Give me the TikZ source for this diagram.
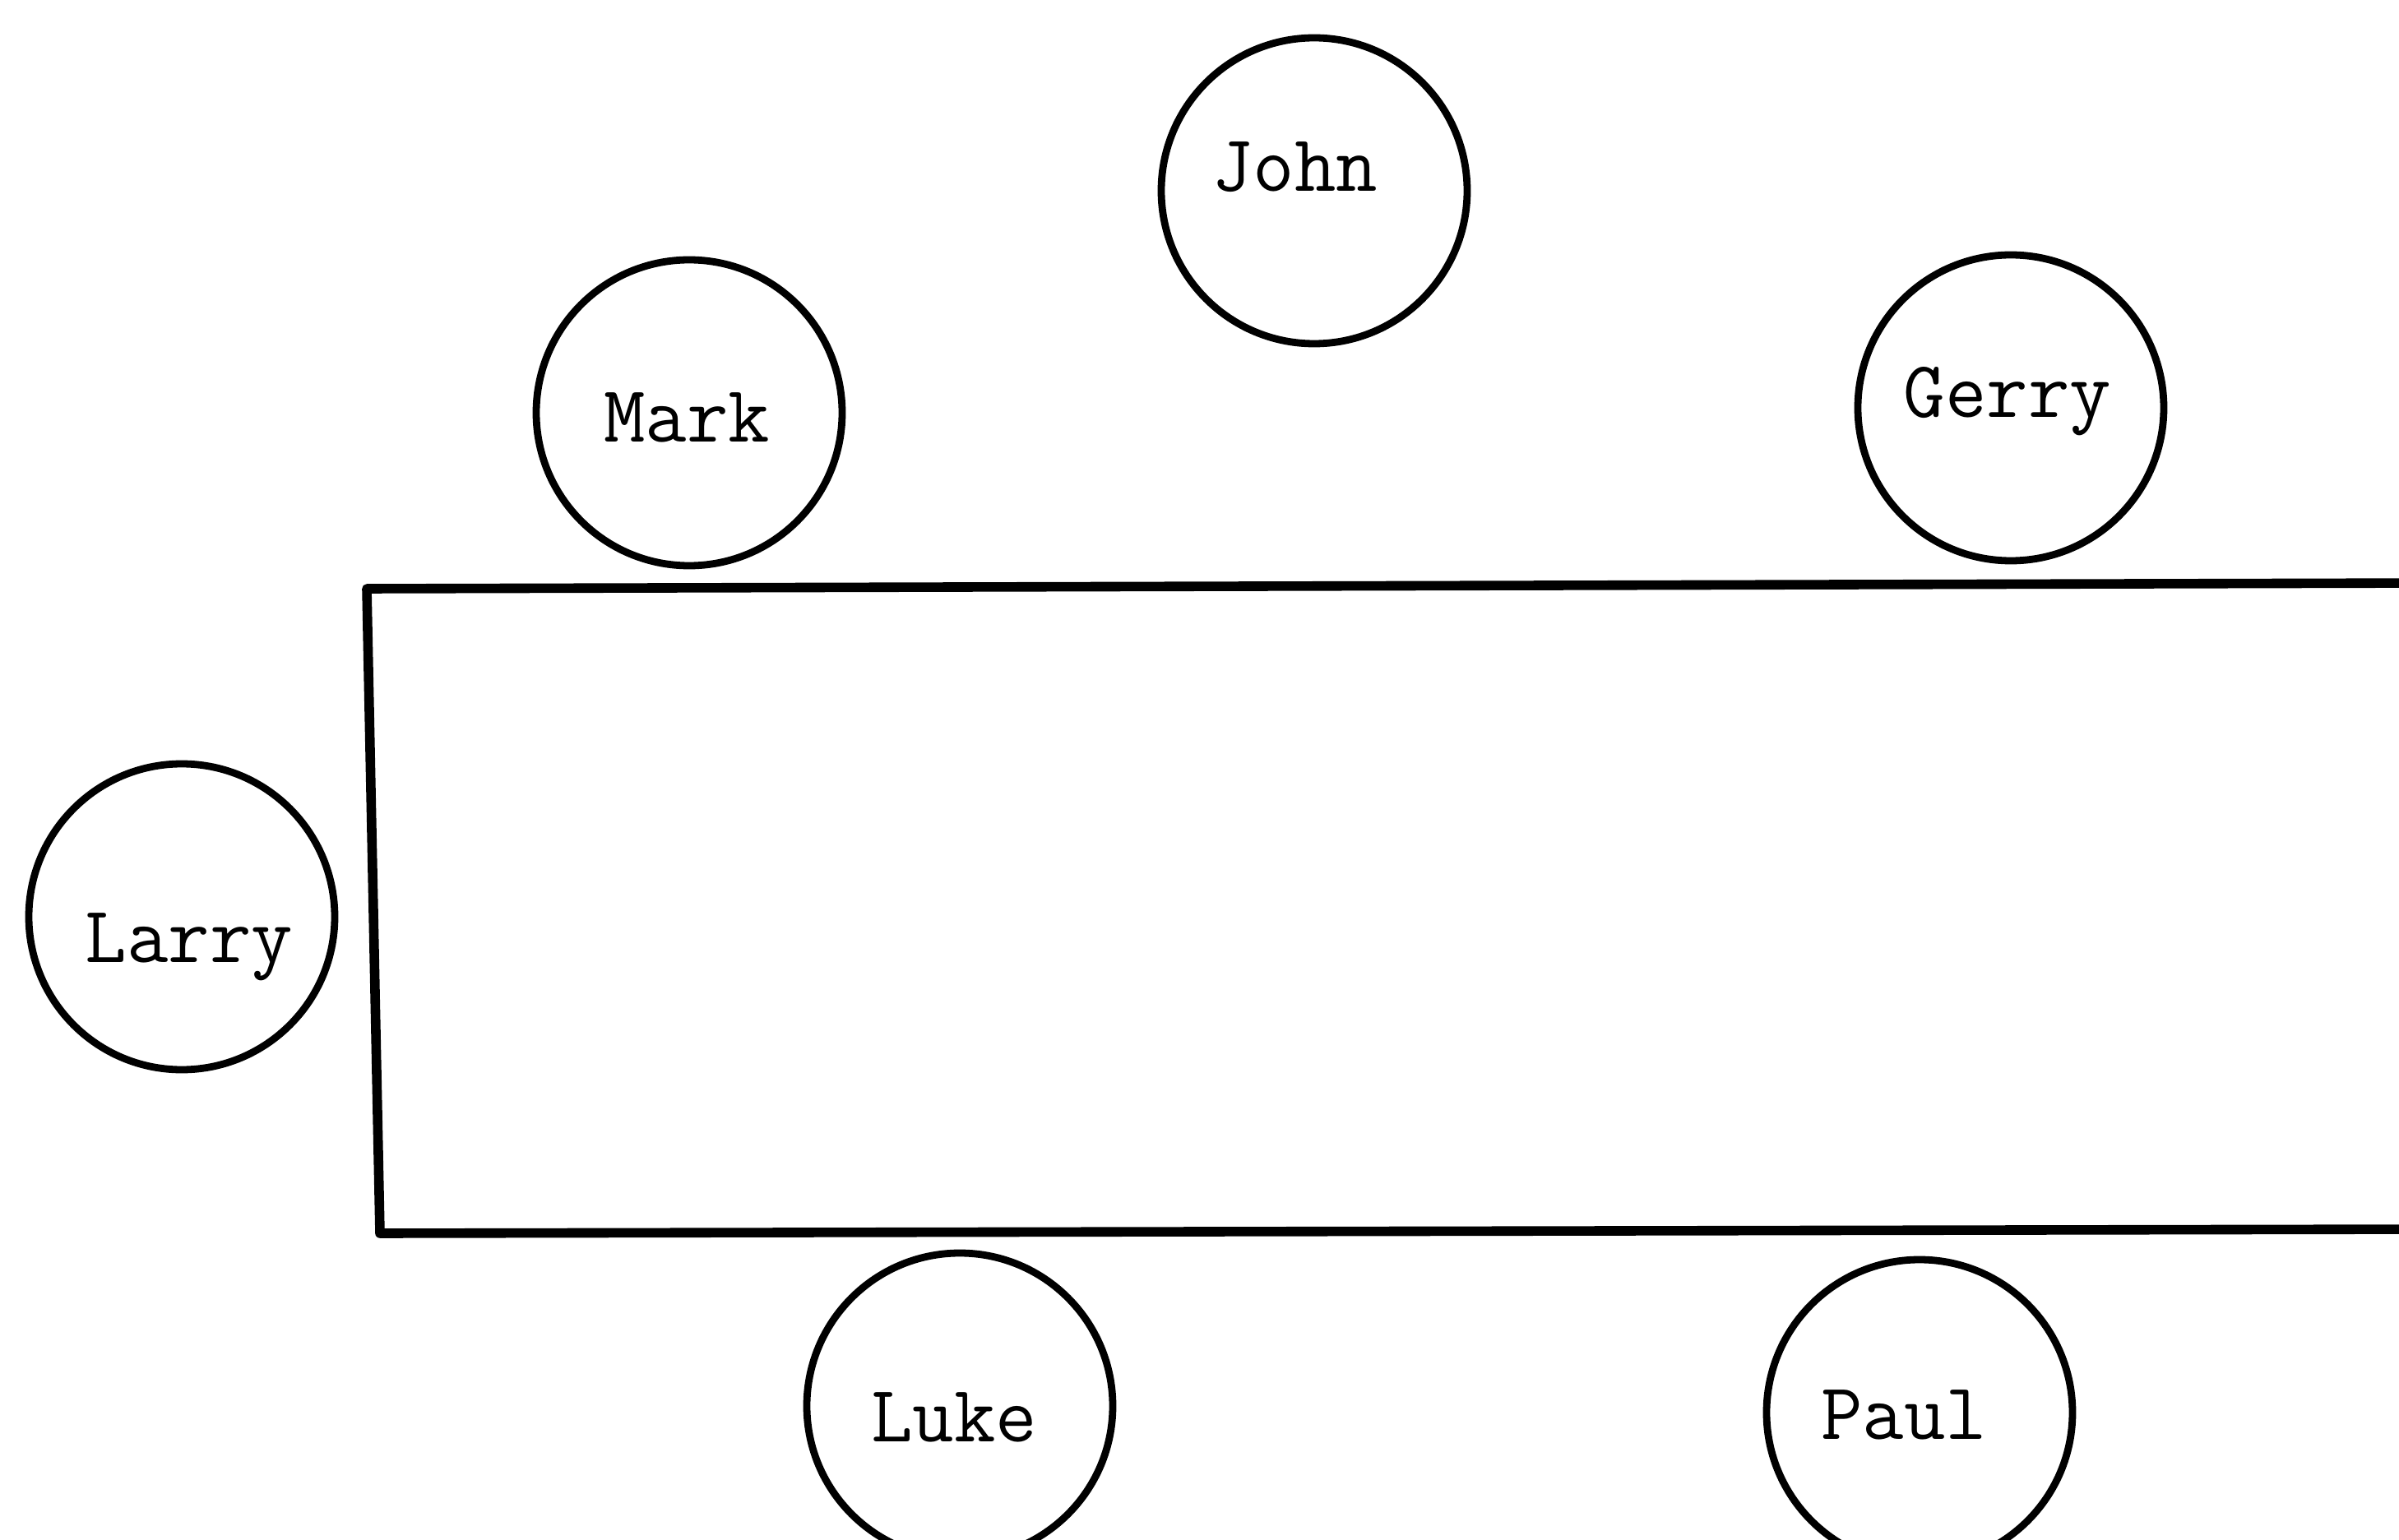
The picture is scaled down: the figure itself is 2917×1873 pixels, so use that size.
\documentclass[tikz,border=0pt]{standalone}
\begin{document}
\begin{tikzpicture}[x=0.25pt,y=-0.25pt,
  seat/.style={draw,circle,line width=2.2pt,minimum size=93pt,inner sep=0pt},
  seatlabel/.style={anchor=base,inner sep=0pt,font=\fontsize{24.5}{29}\selectfont\ttfamily},
  tableedge/.style={line width=2.9pt,line join=round,line cap=round}]
  \clip (0,0) rectangle (2917,1873);
  \fill[white] (0,0) rectangle (2917,1873);

  % the table, running off the right side
  \coordinate (tr) at (2960,709);
  \coordinate (tl) at (446,716);
  \coordinate (bl) at (462,1500);
  \coordinate (br) at (2960,1495);
  \draw[tableedge] (tr) -- (tl) -- (bl) -- (br);

  % seats
  \node[seat] (john)  at (1598,232)  {};
  \node[seat] (mark)  at (838,502)   {};
  \node[seat] (gerry) at (2445,496)  {};
  \node[seat] (larry) at (221,1115)  {};
  \node[seat] (luke)  at (1167,1710) {};
  \node[seat] (paul)  at (2334,1718) {};

  % typed names
  \node[seatlabel] (johnlabel)  at (1574,233)  {John};
  \node[seatlabel] (marklabel)  at (835,538)   {Mark};
  \node[seatlabel] (gerrylabel) at (2441,508)  {Gerry};
  \node[seatlabel] (larrylabel) at (230,1170)  {Larry};
  \node[seatlabel] (lukelabel)  at (1160,1753) {Luke};
  \node[seatlabel] (paullabel)  at (2315,1750) {Paul};
\end{tikzpicture}
\end{document}
